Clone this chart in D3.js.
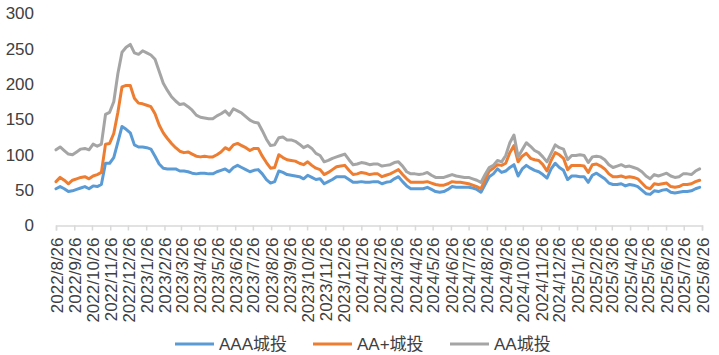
<!DOCTYPE html>
<html><head><meta charset="utf-8">
<script src="https://cdn.jsdelivr.net/npm/d3@7"></script>
<style>
html,body{margin:0;padding:0;background:#fff;}
svg text{font-family:"Liberation Sans","Noto Sans CJK SC",sans-serif;fill:#404040;}
</style></head>
<body><svg id="c" width="719" height="355"></svg>
<script>
const seriesNames = ["AAA城投", "AA+城投", "AA城投"];
const startDate = "2022/8/26"; // weekly observations
const aaa = [52,55,52,48,49,51,53,55,52,56,55,58,88,88,96,118,140,136,131,114,111,111,110,108,98,87,81,80,80,80,77,77,76,74,73,74,74,73,73,76,78,80,76,82,85,82,
79,76,78,79,73,65,60,62,77,75,72,71,70,69,66,71,68,65,66,59,62,65,69,69,69,65,61,61,62,61,61,62,62,59,61,62,66,69,62,56,52,52,52,52,54,51,48,47,48,51,55,54,54,54,
54,53,51,47,58,69,73,80,75,77,82,86,70,80,85,81,78,76,72,67,80,88,82,78,65,70,70,69,69,61,71,74,70,66,60,58,58,59,56,58,57,55,50,45,44,49,48,50,51,47,46,47,48,48,49,52,54];
const aaPlus = [62,68,64,59,64,66,68,69,66,70,72,75,115,116,130,160,196,198,198,180,173,172,170,168,158,142,131,123,116,110,105,103,104,101,98,97,98,97,97,100,104,110,107,114,116,113,
110,106,109,109,98,89,81,82,100,96,93,92,91,88,86,90,85,81,79,72,75,79,83,84,85,78,72,73,75,74,72,73,73,69,71,73,76,79,72,66,61,61,61,61,62,60,58,57,57,59,62,61,61,60,
59,57,55,52,65,77,81,86,85,88,103,113,90,98,102,95,93,92,86,77,92,103,100,95,79,85,85,85,84,75,86,87,84,80,73,69,69,70,68,69,68,66,60,54,52,59,58,59,60,55,54,55,58,58,59,62,64];
const aa = [107,111,106,101,100,104,108,109,107,115,112,115,157,160,175,215,245,252,256,244,242,247,244,241,235,218,201,191,182,176,171,172,168,163,156,153,152,151,151,155,158,162,156,165,162,159,
154,149,146,145,134,122,113,114,124,125,121,121,119,115,110,113,109,102,99,90,92,95,97,99,101,93,86,87,89,88,86,87,87,84,85,86,89,90,84,76,73,73,72,73,75,71,68,68,68,70,72,70,69,68,
68,66,64,61,72,82,85,92,90,99,117,128,97,107,117,112,106,103,97,90,102,114,110,108,93,99,99,100,99,89,97,98,97,93,86,82,84,86,83,84,82,80,76,70,66,72,70,72,74,70,68,69,73,73,72,77,80];
const tickLabels = ["2022/8/26","2022/9/26","2022/10/26","2022/11/26","2022/12/26","2023/1/26","2023/2/26","2023/3/26","2023/4/26","2023/5/26","2023/6/26","2023/7/26","2023/8/26","2023/9/26","2023/10/26","2023/11/26","2023/12/26","2024/1/26","2024/2/26","2024/3/26","2024/4/26","2024/5/26","2024/6/26","2024/7/26","2024/8/26","2024/9/26","2024/10/26","2024/11/26","2024/12/26","2025/1/26","2025/2/26","2025/3/26","2025/4/26","2025/5/26","2025/6/26","2025/7/26","2025/8/26"];
const yTicks = [0,50,100,150,200,250,300];
const colors = ["#5B9BD5","#ED7D31","#A5A5A5"];

const parse = d3.timeParse("%Y/%m/%d");
const t0 = parse(startDate);
const dates = aaa.map((_, i) => d3.timeDay.offset(t0, 7 * i));
const tickDates = tickLabels.map(parse);
const seriesVals = [aaa, aaPlus, aa];

const svg = d3.select("#c");
const x = d3.scaleTime().domain([tickDates[0], tickDates[tickDates.length - 1]]).range([56, 702]);
const y = d3.scaleLinear().domain([0, 300]).range([225.5, 13.3]);

// x axis
const xAxis = d3.axisBottom(x).tickValues(tickDates).tickSize(5).tickFormat((d, i) => tickLabels[i]);
const gx = svg.append("g").attr("transform", `translate(0,${y(0)})`).call(xAxis);
gx.select(".domain").attr("stroke", "#d9d9d9").attr("stroke-width", 1.5);
gx.selectAll(".tick line").attr("stroke", "#d9d9d9").attr("stroke-width", 1.5);
gx.selectAll(".tick text")
  .attr("font-size", 17).attr("fill", "#404040")
  .attr("text-anchor", "end")
  .attr("transform", "rotate(-90)")
  .attr("x", -12).attr("y", 0).attr("dy", "0.36em");

// y axis
const yAxis = d3.axisLeft(y).tickValues(yTicks).tickSize(0).tickPadding(0);
const gy = svg.append("g").attr("transform", "translate(34,0)").call(yAxis);
gy.select(".domain").remove();
gy.selectAll(".tick text").attr("font-size", 17).attr("fill", "#404040").attr("x", 0);

// lines
const line = d3.line().x((d, i) => x(dates[i])).y(d => y(d));
seriesVals.forEach((vals, k) => {
  svg.append("path").datum(vals).attr("d", line)
    .attr("fill", "none").attr("stroke", colors[k]).attr("stroke-width", 3)
    .attr("stroke-linejoin", "round").attr("stroke-linecap", "round");
});

// legend
const legendX = [175, 313, 450];
const lg = svg.append("g");
seriesNames.forEach((n, k) => {
  lg.append("line").attr("x1", legendX[k]).attr("x2", legendX[k] + 39)
    .attr("y1", 344).attr("y2", 344).attr("stroke", colors[k]).attr("stroke-width", 3);
  lg.append("text").attr("x", legendX[k] + 44).attr("y", 344).attr("dy", "0.36em")
    .attr("font-size", 17).attr("fill", "#404040").text(n);
});
</script></body></html>
